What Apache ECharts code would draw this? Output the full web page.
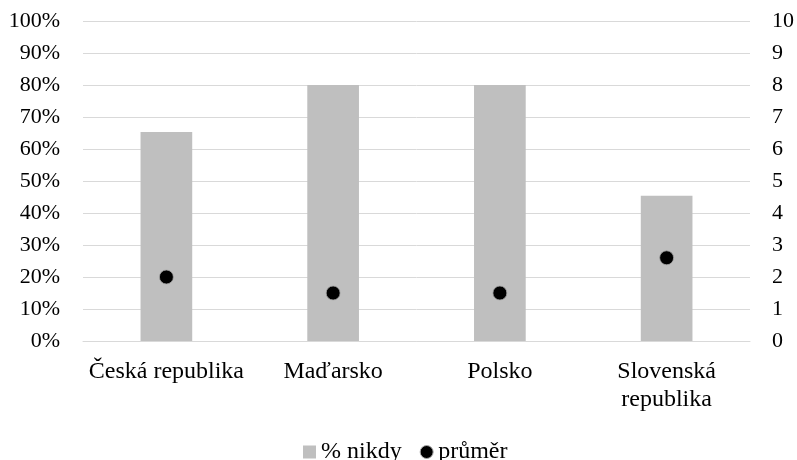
<!DOCTYPE html>
<html>
<head>
<meta charset="utf-8">
<script src="https://cdn.jsdelivr.net/npm/echarts@6/dist/echarts.min.js"></script>
<style>html,body{margin:0;padding:0;background:#fff}#c{width:797px;height:460px}</style>
</head>
<body>
<div id="c"></div>
<script>
var categories = ['Česká republika', 'Maďarsko', 'Polsko', 'Slovenská republika'];
var nikdyValues = [65.3, 80, 80, 45.4];
var prumerValues = [2.0, 1.5, 1.5, 2.6];
var leftTicks = { min: 0, max: 100, interval: 10 };
var rightTicks = { min: 0, max: 10, interval: 1 };
var seriesNames = ['% nikdy', 'průměr'];

var font = 'Liberation Serif';
var chart = echarts.init(document.getElementById('c'), null, { renderer: 'canvas' });
chart.setOption({
  animation: false,
  textStyle: { fontFamily: font, color: '#000' },
  grid: { left: 83, right: 47, top: 21, bottom: 119, containLabel: false },
  legend: {
    bottom: -4,
    left: 303,
    padding: 0,
    itemGap: 18,
    itemWidth: 13,
    itemHeight: 13,
    textStyle: { fontFamily: font, fontSize: 24, color: '#000' },
    data: [
      { name: seriesNames[0], icon: 'rect', itemStyle: { color: '#bfbfbf' } },
      { name: seriesNames[1], icon: 'circle', itemStyle: { color: '#000', borderColor: '#a6a6a6', borderWidth: 1 } }
    ]
  },
  xAxis: {
    type: 'category',
    data: categories,
    axisTick: { show: false },
    axisLine: { show: true, lineStyle: { color: '#d9d9d9', width: 1 } },
    axisLabel: {
      fontFamily: font, fontSize: 24, color: '#000', margin: 17, lineHeight: 28,
      interval: 0,
      formatter: function (v) { return v.length > 16 ? v.replace(' ', '\n') : v; }
    }
  },
  yAxis: [
    {
      type: 'value', min: leftTicks.min, max: leftTicks.max, interval: leftTicks.interval,
      axisLine: { show: false }, axisTick: { show: false },
      splitLine: { lineStyle: { color: '#d9d9d9', width: 1 } },
      axisLabel: { fontFamily: font, fontSize: 22, color: '#000', margin: 23, formatter: '{value}%' }
    },
    {
      type: 'value', min: rightTicks.min, max: rightTicks.max, interval: rightTicks.interval,
      axisLine: { show: false }, axisTick: { show: false },
      splitLine: { show: false },
      axisLabel: { fontFamily: font, fontSize: 22, color: '#000', margin: 22 }
    }
  ],
  series: [
    {
      name: seriesNames[0], type: 'bar', data: nikdyValues, yAxisIndex: 0,
      barWidth: '31%', itemStyle: { color: '#bfbfbf' }, z: 2
    },
    {
      name: seriesNames[1], type: 'scatter', data: prumerValues, yAxisIndex: 1,
      symbol: 'circle', symbolSize: 14,
      itemStyle: { color: '#000', borderColor: '#a6a6a6', borderWidth: 0.8, opacity: 1 }, z: 3
    }
  ]
});
</script>
</body>
</html>
